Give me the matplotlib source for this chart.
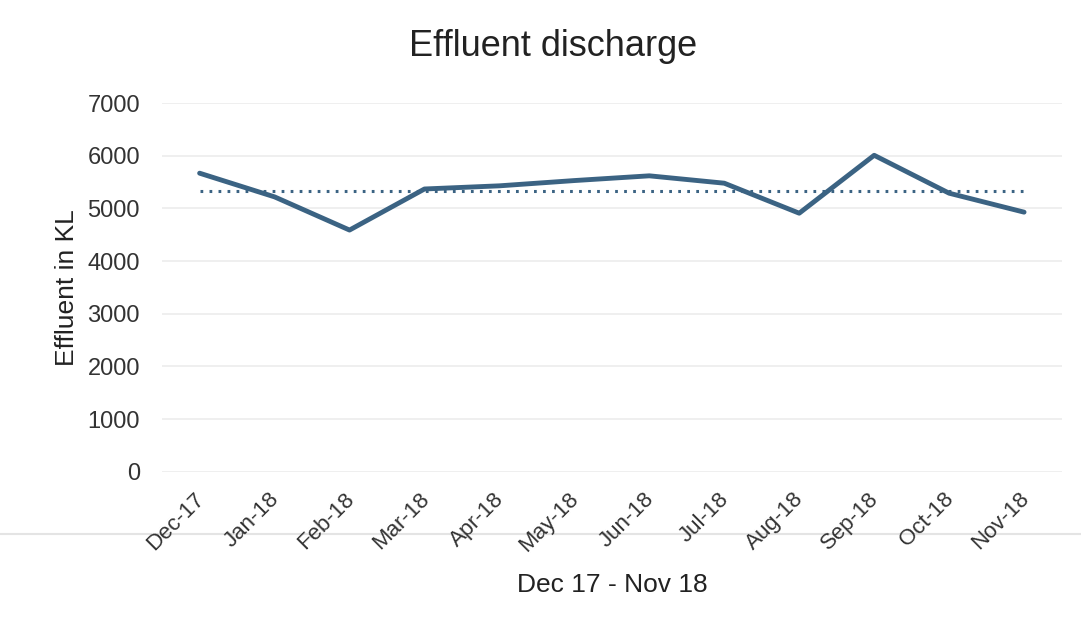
import matplotlib.pyplot as plt
import matplotlib.transforms as mtransforms
import numpy as np

plt.rcParams['font.family'] = ['Liberation Sans', 'DejaVu Sans']

# Data
months = ["Dec-17", "Jan-18", "Feb-18", "Mar-18", "Apr-18", "May-18",
          "Jun-18", "Jul-18", "Aug-18", "Sep-18", "Oct-18", "Nov-18"]
effluent = [5670, 5220, 4590, 5370, 5430, 5530, 5620, 5480, 4910, 6010, 5290, 4930]

x = np.arange(len(months))
avg = np.mean(effluent)

fig = plt.figure(figsize=(10.81, 6.29), dpi=100)
ax = fig.add_axes([0.150, 0.250, 0.832, 0.586])

ax.plot(x, effluent, color="#3b6383", linewidth=3.5, solid_capstyle="round")
ax.plot([x[0], x[-1]], [avg, avg], color="#3b6383", linewidth=2.2,
        linestyle=(0, (0.9, 2.05)), dash_capstyle="butt")

ax.set_xlim(-0.5, len(months) - 0.5)
ax.set_ylim(0, 7000)
ax.set_yticks(range(0, 7001, 1000))
ax.set_xticks(x)
ax.set_xticklabels(months, rotation=45, ha="right", rotation_mode="anchor",
                   fontsize=16, color="#333333")
ax.tick_params(axis="y", labelsize=17, colors="#333333", length=0, pad=16)
ax.tick_params(axis="x", length=0, pad=12)
# nudge the slanted labels a little to the left
shift = mtransforms.ScaledTranslation(-6 / 100, 0, fig.dpi_scale_trans)
for lbl in ax.get_xticklabels():
    lbl.set_transform(lbl.get_transform() + shift)
ax.grid(axis="y", color="#ececec", linewidth=1.2)
for s in ax.spines.values():
    s.set_visible(False)

fig.text(553 / 1081, 1 - 47 / 629, "Effluent discharge", fontsize=26,
         color="#222222", ha="center", va="center")
ax.set_ylabel("Effluent in KL", fontsize=19, color="#222222", labelpad=6)
ax.set_xlabel("Dec 17 - Nov 18", fontsize=19, color="#222222", labelpad=12)

# faint page edge line from the scan
fig.add_artist(plt.Line2D([0, 1], [1 - 534 / 629] * 2, color="#e4e4e4",
                          linewidth=1.5, transform=fig.transFigure, zorder=0))

fig.savefig("out.png", dpi=100, facecolor="white")
